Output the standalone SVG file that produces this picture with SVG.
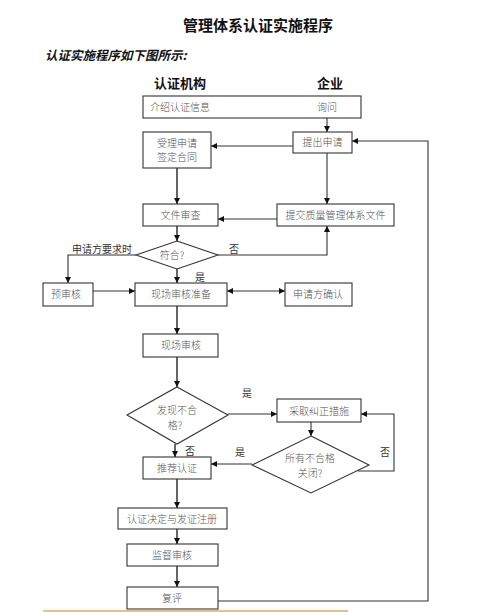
<svg xmlns="http://www.w3.org/2000/svg" width="493" height="612" viewBox="0 0 493 612">
<style>
.bg{fill:#fff}
.box{fill:#fff;stroke:#333;stroke-width:1.1}
.t{font-family:"Noto Sans CJK SC","Noto Sans CJK JP",sans-serif;font-size:10px;fill:#555;font-weight:300}
.lb{font-family:"Noto Sans CJK SC","Noto Sans CJK JP",sans-serif;font-size:10px;fill:#333;font-weight:400}
.m{text-anchor:middle}
.hd{font-family:"Noto Sans CJK SC","Noto Sans CJK JP",sans-serif;font-weight:700;fill:#111}
.c{fill:none;stroke:#333;stroke-width:1.1}
.k{fill:none;stroke:#555;stroke-width:1.8}
</style>
<defs>
<marker id="ah" markerUnits="userSpaceOnUse" markerWidth="7" markerHeight="7" refX="6" refY="3" orient="auto-start-reverse">
<path d="M0,0 L6,3 L0,6 z" fill="#111"/>
</marker>
</defs>
<rect class="bg" x="0" y="0" width="493" height="612"/>
<g id="titles">
<text class="hd m" x="258" y="31" font-size="15">管理体系认证实施程序</text>
<text class="hd" x="45" y="60" font-size="12.5" font-style="italic">认证实施程序如下图所示:</text>
<text class="hd" x="154" y="88" font-size="13">认证机构</text>
<text class="hd" x="317" y="88" font-size="13">企业</text>
</g>
<g id="connectors">
<path class="c" d="M327,118 V132" marker-end="url(#ah)"/>
<path class="c" d="M293,146 H211" marker-end="url(#ah)"/>
<path class="c" d="M327,153 V204" marker-end="url(#ah)"/>
<path class="k" d="M177,168 V204" marker-end="url(#ah)"/>
<path class="c" d="M277,219 H218" marker-end="url(#ah)"/>
<path class="k" d="M177,226 V241" marker-end="url(#ah)"/>
<path class="c" d="M136,255 H68 V283" marker-end="url(#ah)"/>
<path class="c" d="M218,255 H327 V226" marker-end="url(#ah)"/>
<path class="k" d="M177,269 V283" marker-end="url(#ah)"/>
<path class="c" d="M93,291 H135" marker-end="url(#ah)"/>
<path class="c" d="M227,291 H285" marker-start="url(#ah)" marker-end="url(#ah)"/>
<path class="k" d="M177,306 V334" marker-end="url(#ah)"/>
<path class="k" d="M177,357 V387" marker-end="url(#ah)"/>
<path class="c" d="M228,414 H277" marker-end="url(#ah)"/>
<path class="c" d="M311,422 V436" marker-end="url(#ah)"/>
<path class="c" d="M358,471 H394 V414 H361" marker-end="url(#ah)"/>
<path class="c" d="M252,464 H211" marker-end="url(#ah)"/>
<path class="k" d="M175,444 V457" marker-end="url(#ah)"/>
<path class="k" d="M177,479 V508" marker-end="url(#ah)"/>
<path class="k" d="M177,529 V544" marker-end="url(#ah)"/>
<path class="k" d="M177,566 V587" marker-end="url(#ah)"/>
<path class="c" d="M218,601 H428 V141 H352" marker-end="url(#ah)"/>
<text class="lb" x="72" y="253" font-size="9.5">申请方要求时</text>
<text class="lb" x="229" y="253">否</text>
<text class="lb" x="195" y="281">是</text>
<text class="lb" x="242" y="397">是</text>
<text class="lb" x="380" y="456">否</text>
<text class="lb" x="235" y="456">是</text>
<text class="lb" x="185" y="455">否</text>
</g>
<g id="n-info">
<rect class="box" x="143" y="96" width="218" height="22"/>
<text class="t" x="150" y="111">介绍认证信息</text>
<text class="t" x="317" y="111">询问</text>
</g>
<g id="n-accept">
<rect class="box" x="143" y="132" width="68" height="36"/>
<text class="t m" x="177" y="147">受理申请</text>
<text class="t m" x="177" y="161">签定合同</text>
</g>
<g id="n-apply">
<rect class="box" x="293" y="132" width="59" height="21"/>
<text class="t m" x="322.5" y="146">提出申请</text>
</g>
<g id="n-docreview">
<rect class="box" x="143" y="204" width="75" height="22"/>
<text class="t m" x="180.5" y="219">文件审查</text>
</g>
<g id="n-submit">
<rect class="box" x="277" y="204" width="117" height="22"/>
<text class="t m" x="335.5" y="219">提交质量管理体系文件</text>
</g>
<g id="n-conform">
<path class="box" d="M177,241 L218,255 L177,269 L136,255 Z"/>
<text class="t m" x="172" y="259">符合?</text>
</g>
<g id="n-pre">
<rect class="box" x="43" y="283" width="50" height="23"/>
<text class="t m" x="66" y="298">预审核</text>
</g>
<g id="n-prep">
<rect class="box" x="135" y="283" width="92" height="23"/>
<text class="t m" x="181" y="298">现场审核准备</text>
</g>
<g id="n-confirm">
<rect class="box" x="285" y="283" width="67" height="23"/>
<text class="t m" x="318" y="298">申请方确认</text>
</g>
<g id="n-audit">
<rect class="box" x="143" y="334" width="75" height="23"/>
<text class="t m" x="181" y="349">现场审核</text>
</g>
<g id="n-found">
<path class="box" d="M177,387 L228,415 L177,444 L127,415 Z"/>
<text class="t m" x="177" y="414">发现不合</text>
<text class="t m" x="175" y="429">格?</text>
</g>
<g id="n-correct">
<rect class="box" x="277" y="399" width="84" height="23"/>
<text class="t m" x="319" y="414.5">采取纠正措施</text>
</g>
<g id="n-closed">
<path class="box" d="M311,436 L369,465 L311,493 L252,465 Z"/>
<text class="t m" x="310" y="462">所有不合格</text>
<text class="t m" x="310" y="477">关闭?</text>
</g>
<g id="n-recommend">
<rect class="box" x="143" y="457" width="68" height="22"/>
<text class="t m" x="177" y="472">推荐认证</text>
</g>
<g id="n-decision">
<rect class="box" x="118" y="508" width="109" height="21"/>
<text class="t m" x="172" y="522.5">认证决定与发证注册</text>
</g>
<g id="n-surveil">
<rect class="box" x="127" y="544" width="91" height="22"/>
<text class="t m" x="172" y="558.5">监督审核</text>
</g>
<g id="n-reassess">
<rect class="box" x="127" y="587" width="91" height="22"/>
<text class="t m" x="172" y="602">复评</text>
</g>
<line x1="43" y1="611" x2="348" y2="611" stroke="#e8c08e" stroke-width="2"/>
</svg>
